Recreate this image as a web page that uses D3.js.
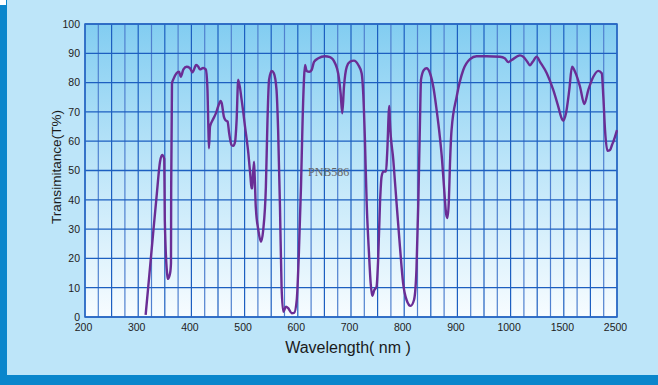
<!DOCTYPE html>
<html>
<head>
<meta charset="utf-8">
<script src="https://cdn.jsdelivr.net/npm/d3@7/dist/d3.min.js"></script>
<style>
  html, body { margin: 0; padding: 0; background: #bde5f9; }
  svg { display: block; font-family: "Liberation Sans", Arial, sans-serif; }
</style>
</head>
<body>
<svg id="chart" width="658" height="385"></svg>
<script>
const wavelength = [314, 321, 328, 335, 341, 345, 349, 350, 355, 356, 360, 361.6, 362, 363.5, 366, 372, 376.7, 380, 385, 391, 397, 402, 409,
  413, 416, 422, 427, 430, 432, 433, 435, 440, 446, 450.6, 455, 457, 461, 464, 468, 471, 475.5, 478.8, 482,
  485, 488, 494.5, 500.8, 507, 511, 513, 514, 517.7, 519, 521, 525.8, 530.8, 535, 540, 543, 546, 551, 555, 560,
  563, 566.5, 569.5, 572.7, 577.8, 582, 588.5, 593, 598, 602, 606, 609, 611.6, 613.5, 616.6, 621.6, 626, 630.5, 638.6, 651,
  660.5, 670, 676, 680.5, 683.6, 686.8, 692, 698, 705.6, 713.7, 720, 723, 726, 729.5, 733.8, 737, 740, 743.8, 748, 751,
  754.5, 757.5, 760.7, 765.8, 768, 772, 773, 779.5, 785.7, 792, 798, 804.5, 812, 818.4, 823, 826.5, 829.7, 831.6, 837, 842,
  848.5, 854.7, 861, 867, 871, 875, 879, 881.5, 884, 886, 889, 898.6, 911, 923.7, 936, 955, 980, 989, 995.7, 1010,
  1088, 1120, 1157, 1182, 1208, 1245, 1276, 1340, 1401, 1448, 1480, 1495, 1541, 1603, 1654, 1711, 1805, 1886, 1961, 2055,
  2149, 2213, 2243, 2275, 2321, 2369, 2406, 2444, 2500];

const transmittance = [0.7, 14.5, 28.4, 42, 53, 55.3, 54, 33, 13.8, 13, 15, 18.4, 44, 79.8, 81.1, 83.2, 83.7, 82, 84.5, 85.4, 85, 83.5, 86,
  85.4, 84.5, 85, 84.5, 78.6, 63.8, 57.6, 65, 67.2, 69.5, 72, 73.7, 73, 68.4, 67.2, 66.7, 62.7, 58.7, 58.4, 59.7,
  67.2, 81, 74, 65, 55.9, 47.9, 43.9, 44, 53, 47.9, 37.6, 29.7, 25.7, 29.7, 44.5, 67, 81, 84, 83.2, 77.5,
  63.8, 37.6, 10.3, 1.8, 3.5, 3, 1.3, 1.4, 5.8, 21.7, 44.5, 67, 81, 86, 84, 83.7, 84.3, 87.1, 88.3, 89,
  88.7, 86.6, 83, 76.3, 69.5, 78.6, 85.4, 87.1, 87.5, 86, 83.2, 76.3, 61.5, 38.8, 21.7, 11.5, 7.2, 9.2, 10.3, 19.5,
  38.8, 47.9, 49.6, 49.6, 55.9, 72, 67.2, 53.6, 38.8, 24, 11.5, 5.8, 3.8, 5.8, 16, 38.8, 67.2, 81, 84.3, 84.9,
  83.2, 78.6, 70.6, 61.5, 54, 44, 35, 33.8, 40, 52, 63.8, 75.2, 84.3, 88, 89, 89, 88.8, 88.3, 87, 87.7,
  89.3, 88.8, 87.1, 85.9, 87.1, 88.8, 87.1, 83.2, 77.5, 71.8, 67.8, 67, 69.5, 77.5, 85.4, 83.7, 78.6, 72.7, 77.5, 82,
  84, 83.2, 75.2, 63.8, 56.7, 57, 58.7, 60.5, 63.8];

const xTickLabels = [200, 300, 400, 500, 600, 700, 800, 900, 1000, 1500, 2500];
const yTickLabels = [0, 10, 20, 30, 40, 50, 60, 70, 80, 90, 100];
const sampleName = "PNB586";

const W = 658, H = 385;
const plotLeft = 85, plotRight = 617, plotTop = 24, plotBottom = 317;

const svg = d3.select("#chart");

// x axis is broken into three linear pieces (100nm / 500nm / 1000nm per division)
const step = (plotRight - plotLeft) / 10;
const x = d3.scaleLinear()
  .domain([200, 1000, 1500, 2500])
  .range([plotLeft, plotLeft + 8 * step, plotLeft + 9 * step, plotRight]);
const y = d3.scaleLinear().domain([0, 100]).range([plotBottom, plotTop]);

// frame
svg.append("rect").attr("width", W).attr("height", H).attr("fill", "#bde5f9");
svg.append("rect").attr("x", 0).attr("y", 0).attr("width", 7).attr("height", H).attr("fill", "#0a86cc");
svg.append("rect").attr("x", 0).attr("y", 0).attr("width", 6).attr("height", 5).attr("fill", "#ffffff");
svg.append("rect").attr("x", 0).attr("y", 375).attr("width", W).attr("height", 10).attr("fill", "#0a86cc");

const defs = svg.append("defs");
const grad = defs.append("linearGradient").attr("id", "plotBg")
  .attr("x1", 0).attr("y1", 0).attr("x2", 0).attr("y2", 1);
grad.append("stop").attr("offset", "0%").attr("stop-color", "#82cdf1");
grad.append("stop").attr("offset", "50%").attr("stop-color", "#bfe6f9");
grad.append("stop").attr("offset", "100%").attr("stop-color", "#f7fcff");

svg.append("rect")
  .attr("x", plotLeft).attr("y", plotTop)
  .attr("width", plotRight - plotLeft).attr("height", plotBottom - plotTop)
  .attr("fill", "url(#plotBg)");

// grid
let gridX = [];
for (let v = 200; v <= 1000; v += 25) gridX.push(v);
for (let v = 1125; v <= 1500; v += 125) gridX.push(v);
for (let v = 1750; v <= 2500; v += 250) gridX.push(v);

svg.append("g").selectAll("line")
  .data(gridX)
  .enter()
  .append("line")
  .attr("x1", d => x(d)).attr("x2", d => x(d))
  .attr("y1", plotTop).attr("y2", plotBottom)
  .attr("stroke", (d, i) => i % 2 ? "#4f80cf" : "#1d5fc0")
  .attr("stroke-width", 1.2);

svg.append("g").selectAll("line")
  .data(yTickLabels)
  .enter()
  .append("line")
  .attr("x1", plotLeft).attr("x2", plotRight)
  .attr("y1", d => y(d)).attr("y2", d => y(d))
  .attr("stroke", "#1d5fc0")
  .attr("stroke-width", 1.3);

svg.append("rect")
  .attr("x", plotLeft).attr("y", plotTop)
  .attr("width", plotRight - plotLeft).attr("height", plotBottom - plotTop)
  .attr("fill", "none")
  .attr("stroke", "#2a68c4")
  .attr("stroke-width", 1.5);

// axes labels
const yAxis = d3.axisLeft(y).tickValues(yTickLabels).tickSize(0).tickPadding(4);
const gy = svg.append("g").attr("transform", `translate(${plotLeft - 1},0)`).call(yAxis);
gy.select(".domain").remove();
gy.selectAll("text").attr("font-size", 10.5).attr("fill", "#222")
  .attr("font-family", "Liberation Sans, Arial, sans-serif");

const xAxis = d3.axisBottom(x).tickValues(xTickLabels).tickFormat(d3.format("d")).tickSize(0).tickPadding(7);
const gx = svg.append("g").attr("transform", `translate(-2,${plotBottom})`).call(xAxis);
gx.select(".domain").remove();
gx.selectAll("text").attr("font-size", 10.5).attr("fill", "#222")
  .attr("font-family", "Liberation Sans, Arial, sans-serif");

svg.append("text")
  .attr("x", 348).attr("y", 353)
  .attr("text-anchor", "middle")
  .attr("font-size", 16)
  .attr("fill", "#1a1a1a")
  .text("Wavelength( nm )");

svg.append("text")
  .attr("transform", "translate(61,167) rotate(-90)")
  .attr("text-anchor", "middle")
  .attr("font-size", 12)
  .attr("textLength", 114)
  .attr("lengthAdjust", "spacingAndGlyphs")
  .attr("fill", "#1a1a1a")
  .text("Transimitance(T%)");

// spectrum
const points = wavelength.map((w, i) => [w, transmittance[i]]);
const line = d3.line()
  .x(d => x(d[0]))
  .y(d => y(d[1]))
  .curve(d3.curveMonotoneX);

svg.append("path")
  .datum(points)
  .attr("d", line)
  .attr("fill", "none")
  .attr("stroke", "#6a2d95")
  .attr("stroke-width", 2.4)
  .attr("stroke-linejoin", "round");

svg.append("text")
  .attr("x", 308).attr("y", 176)
  .attr("font-family", "Liberation Serif, Times New Roman, serif")
  .attr("font-size", 12)
  .attr("fill", "#666")
  .text(sampleName);
</script>
</body>
</html>
